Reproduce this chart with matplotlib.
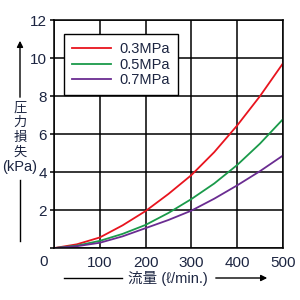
import matplotlib
matplotlib.use('Agg')
import matplotlib.pyplot as plt

plt.rcParams['font.family'] = ['Liberation Sans', 'Noto Sans CJK JP', 'DejaVu Sans']

flow = [0, 50, 100, 150, 200, 250, 300, 350, 400, 450, 500]
p03 = [0, 0.2, 0.56, 1.2, 1.95, 2.85, 3.84, 5.05, 6.45, 8.0, 9.72]
p05 = [0, 0.13, 0.38, 0.75, 1.22, 1.85, 2.58, 3.4, 4.37, 5.5, 6.78]
p07 = [0, 0.1, 0.28, 0.62, 1.05, 1.48, 1.97, 2.6, 3.3, 4.05, 4.87]
labels = ['0.3MPa', '0.5MPa', '0.7MPa']
colors = ['#e8141e', '#1a9a4a', '#6a2c91']
txt = '#1c2541'

fig = plt.figure(figsize=(3, 3), dpi=100)
ax = fig.add_axes([0.18, 0.173, 0.763, 0.76])
for y, lab, c in zip([p03, p05, p07], labels, colors):
    ax.plot(flow, y, color=c, lw=1.3, label=lab)

ax.set_xlim(0, 500)
ax.set_ylim(0, 12)
ax.set_xticks([0, 100, 200, 300, 400, 500])
ax.set_xticklabels(['', '100', '200', '300', '400', '500'])
ax.set_yticks([0, 2, 4, 6, 8, 10, 12])
ax.set_yticklabels(['', '2', '4', '6', '8', '10', '12'])
ax.grid(True, color='black', lw=1.1)
ax.tick_params(axis='x', length=0, pad=6, labelsize=11, labelcolor=txt)
ax.tick_params(axis='y', length=3, width=1.1, pad=2, labelsize=11, labelcolor=txt)
for s in ax.spines.values():
    s.set_linewidth(1.1)
ax.text(-0.045, -0.06, '0', transform=ax.transAxes, ha='center', va='center',
        fontsize=11, color=txt)

leg = ax.legend(loc='upper left', bbox_to_anchor=(0.01, 0.97), fancybox=False,
                framealpha=1, edgecolor='black', fontsize=10.5, handlelength=2.7,
                labelspacing=0.1, borderpad=0.55, handletextpad=0.6)
leg.get_frame().set_linewidth(1.0)
for t in leg.get_texts():
    t.set_color(txt)

# y-axis label with arrow
fig.add_artist(matplotlib.patches.FancyArrowPatch((20, 200), (20, 262), transform=None,
               arrowstyle='-|>', mutation_scale=9, color='black', lw=1.0))
fig.lines.append(matplotlib.lines.Line2D([20, 20], [59, 120], color='black', lw=1.0))
for i, ch in enumerate('圧力損失'):
    fig.text(20, 192 - i * 15, ch, transform=None, ha='center', va='center',
             fontsize=9.5, color=txt)
fig.text(20, 133, '(kPa)', transform=None, ha='center', va='center', fontsize=10.5, color=txt)

# x-axis label with arrow
fig.lines.append(matplotlib.lines.Line2D([64, 122], [22, 22], color='black', lw=1.0))
fig.text(168, 22, '流量 (ℓ/min.)', transform=None, ha='center', va='center',
         fontsize=10.5, color=txt)
fig.add_artist(matplotlib.patches.FancyArrowPatch((213, 22), (270, 22), transform=None,
               arrowstyle='-|>', mutation_scale=9, color='black', lw=1.0))

fig.savefig('out.png', dpi=100)
